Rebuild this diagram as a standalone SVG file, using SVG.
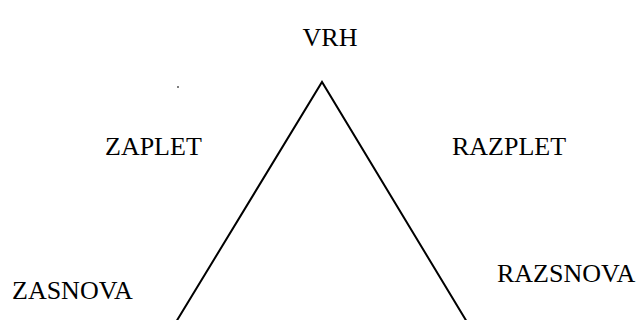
<svg xmlns="http://www.w3.org/2000/svg" width="643" height="320" viewBox="0 0 643 320">
<style>
.t{font-family:"Liberation Serif","Times New Roman",serif;font-size:26px;fill:#000}
.ln{fill:none;stroke:#000;stroke-width:2}
</style>
<rect width="643" height="320" fill="#fff"/>
<g id="connectors">
<polyline class="ln" points="176,322 322,82 467,322"/>
</g>
<g id="vrh"><text class="t" x="330" y="46" text-anchor="middle">VRH</text></g>
<g id="zaplet"><text class="t" x="105" y="155">ZAPLET</text></g>
<g id="razplet"><text class="t" x="452" y="155">RAZPLET</text></g>
<g id="zasnova"><text class="t" x="12" y="299">ZASNOVA</text></g>
<g id="razsnova"><text class="t" x="497" y="282">RAZSNOVA</text></g>
<rect x="177.5" y="86" width="1" height="2" fill="#000"/>
</svg>
